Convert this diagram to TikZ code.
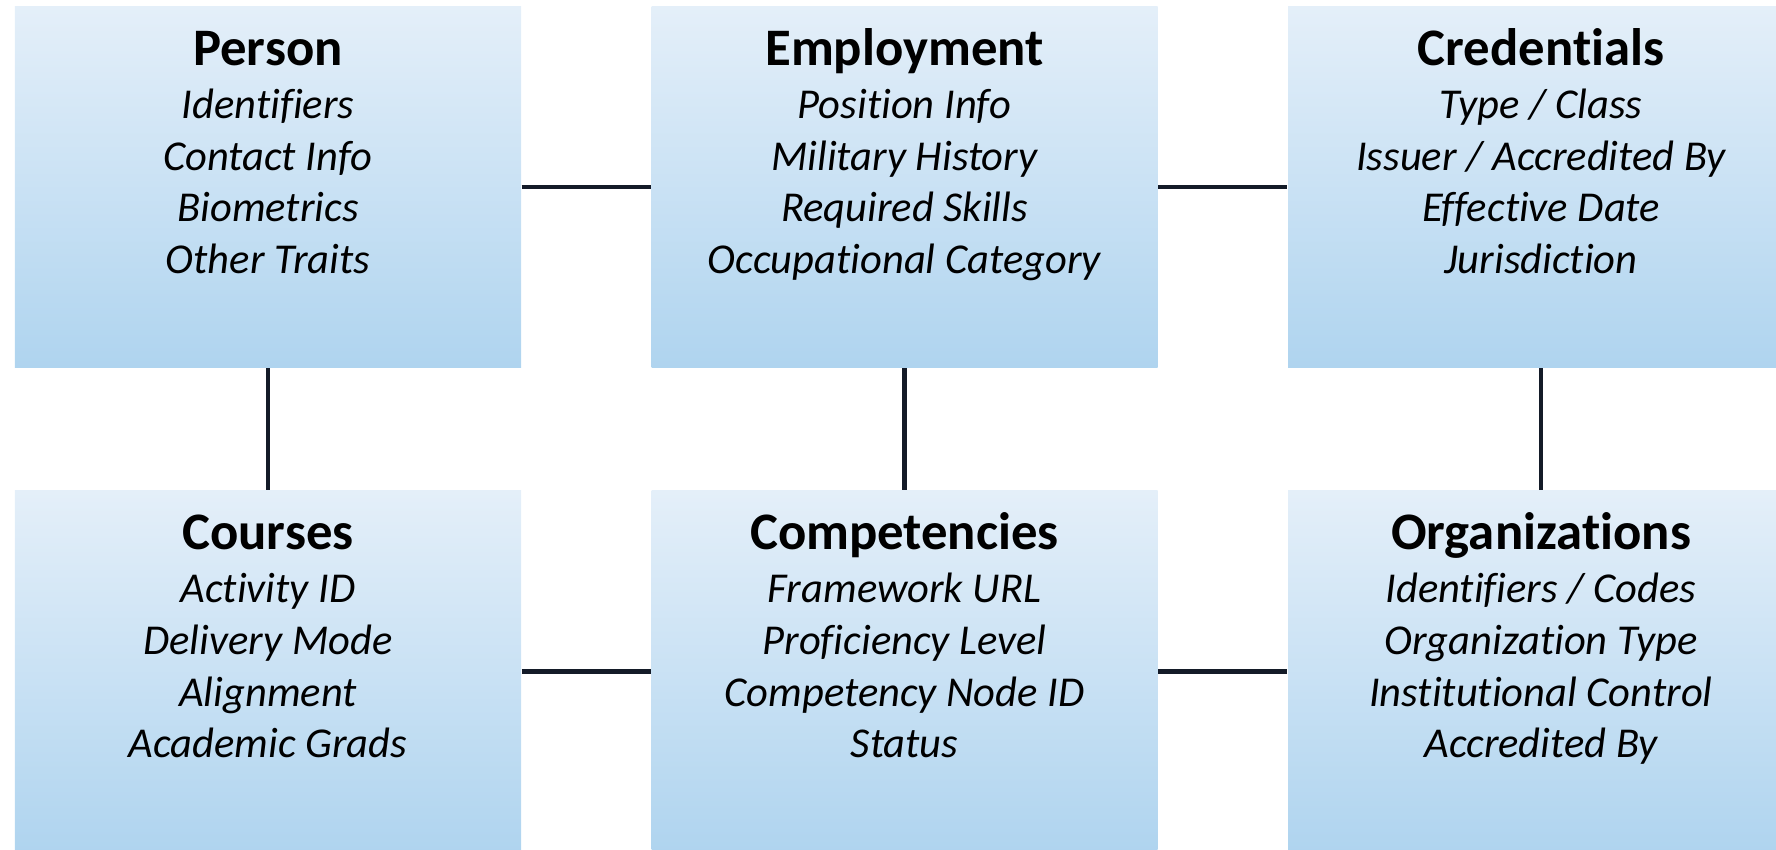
\documentclass[tikz,border=0pt]{standalone}
\usepackage{fontspec}
\setmainfont[Ligatures={NoCommon}]{Carlito}

\definecolor{boxtop}{HTML}{E4EFF9}
\definecolor{boxbot}{HTML}{AFD4EF}
\definecolor{wire}{HTML}{141B28}

\begin{document}
\begin{tikzpicture}[
  entity/.style={rectangle, draw=none, top color=boxtop, bottom color=boxbot,
    minimum width=5.06cm, minimum height=3.61cm, inner sep=0pt},
  fields/.style={anchor=north, inner sep=0pt, align=center,
    font=\fontsize{12.1}{14.7}\selectfont\itshape},
  link/.style={draw=wire, line width=1.15pt}
]
\useasboundingbox (0,0) rectangle (17.76,8.5);
\clip (0,0) rectangle (17.76,8.5);

\newcommand{\ttl}[1]{{\upshape\bfseries\fontsize{15}{15}\selectfont\rule{0pt}{12pt}#1}\\[0.5pt]}

%ligne du haut
\node[entity] (person) at (2.68,6.63) {};
\node[entity] (employ) at (9.045,6.63) {};
\node[entity] (cred) at (15.41,6.63) {};

%ligne du bas
\node[entity] (course) at (2.68,1.785) {};
\node[entity] (compet) at (9.045,1.785) {};
\node[entity] (orga) at (15.41,1.785) {};

%textes
\node[fields] (personT) at ([yshift=-0.164cm]person.north)
  {\ttl{Person}Identifiers\\Contact Info\\Biometrics\\Other Traits};
\node[fields] (employT) at ([yshift=-0.164cm]employ.north)
  {\ttl{Employment}Position Info\\Military History\\Required Skills\\Occupational Category};
\node[fields] (credT) at ([yshift=-0.164cm]cred.north)
  {\ttl{Credentials}Type / Class\\Issuer / Accredited By\\Effective Date\\Jurisdiction};
\node[fields] (courseT) at ([yshift=-0.164cm]course.north)
  {\ttl{Courses}Activity ID\\Delivery Mode\\Alignment\\Academic Grads};
\node[fields] (competT) at ([yshift=-0.164cm]compet.north)
  {\ttl{Competencies}Framework URL\\Proficiency Level\\Competency Node ID\\Status};
\node[fields] (orgaT) at ([yshift=-0.164cm]orga.north)
  {\ttl{Organizations}Identifiers / Codes\\Organization Type\\Institutional Control\\Accredited By};

%liens
\draw[link] (person) -- (employ);
\draw[link] (employ) -- (cred);
\draw[link] (course) -- (compet);
\draw[link] (compet) -- (orga);
\draw[link] (person) -- (course);
\draw[link] (employ) -- (compet);
\draw[link] (cred) -- (orga);

\end{tikzpicture}
\end{document}
